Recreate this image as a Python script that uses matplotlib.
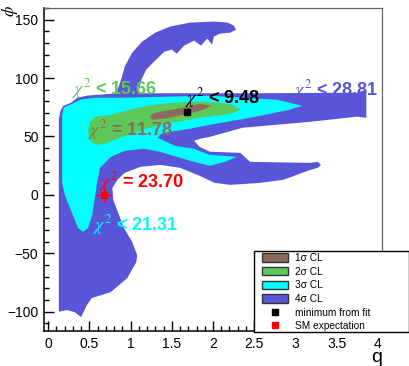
import matplotlib.pyplot as plt
from matplotlib.patches import Patch, Rectangle
from matplotlib.lines import Line2D
from matplotlib.ticker import MultipleLocator

plt.rcParams['font.family'] = ['Liberation Sans', 'DejaVu Sans']
plt.rcParams['mathtext.fontset'] = 'stix'

# 4 sigma region: main body (column, band, lower arm) and upper arch
q_4s = [0.13, 0.13, 0.145, 0.18, 0.28, 0.35, 0.47, 0.85, 2.45, 3.75, 3.81, 3.86,
        3.86, 3.75, 3.18, 2.36, 1.96, 1.84, 1.77, 1.84, 1.96, 2.33, 2.45, 3.18,
        3.27, 3.31, 3.27, 3.18, 2.85, 2.57, 2.21, 2.02, 1.84, 1.60, 1.36, 1.12,
        0.93, 0.84, 0.78, 0.79, 0.86, 0.92, 1.02, 1.08, 1.07, 0.96, 0.76, 0.53,
        0.47, 0.40, 0.32, 0.23]
phi_4s = [-100, 64, 71, 76, 79, 83, 85, 87, 87, 87.5, 89, 90,
          66, 67, 62.6, 57.5, 49.7, 48, 46.3, 41, 37, 36, 28.3, 27.4,
          28.3, 25.7, 23.2, 21.4, 12.9, 10.3, 8.6, 10.3, 16.3, 23.2, 25.7, 24,
          18.9, 12.9, 6, -4.3, -17.2, -28.3, -40.3, -51.5, -57.5, -71.2, -83.2, -88.3,
          -94.3, -104.6, -100.3, -98.6]
q_4s_arch = [0.82, 0.885, 0.93, 1.02, 1.14, 1.30, 1.48, 1.72, 2.01, 2.18, 2.25, 2.28,
             2.21, 2.085, 2.01, 1.99, 1.93, 1.855, 1.77, 1.65, 1.56, 1.50, 1.41,
             1.285, 1.19, 1.13, 1.09]
phi_4s_arch = [85.8, 98.6, 110, 121.8, 131.2, 138.9, 144.1, 147.5, 148.4, 147.5, 145, 141.5,
               138.9, 138.1, 135.5, 128.6, 133.8, 127.8, 132.1, 127.8, 120.9, 124.4, 122.6,
               114.1, 107.2, 98.6, 85.8]

# 3 sigma region
q_3s = [0.17, 0.19, 0.29, 0.39, 0.57, 0.87, 1.96, 2.78, 3.08, 2.93, 2.45, 1.96,
        1.72, 1.48, 1.37, 1.33, 1.54, 1.77, 1.96, 2.29, 2.145, 1.96, 1.72, 1.56,
        1.36, 1.16, 0.93, 0.76, 0.63, 0.594, 0.57, 0.533, 0.485, 0.424, 0.364, 0.29,
        0.206, 0.17]
phi_3s = [68.6, 74.6, 78, 81.5, 83.2, 83.2, 84.9, 81.5, 76.3, 72.9, 66, 60,
          56.6, 54, 52.3, 48.9, 42, 39.5, 34.3, 32.6, 28.3, 24.9, 29.2, 32.6,
          36.9, 39.5, 37.7, 32.6, 23.2, 10.3, -0.9, -18, -28.3, -31.7, -28.3, -15.4,
          -0.9, 10.3]

# 2 sigma region
q_2s = [0.51, 0.57, 0.76, 1.08, 1.285, 1.53, 1.84, 2.085, 2.23, 2.34, 2.21, 2.05,
        1.84, 1.64, 1.36, 1.115, 0.87, 0.69, 0.57, 0.50, 0.485]
phi_2s = [62.6, 66.9, 68.6, 74.6, 77.2, 78.9, 79.8, 78.9, 77.2, 72.9, 69.5, 67.8,
          66, 63.5, 60, 54.9, 48.9, 43.7, 42.9, 47.2, 55.7]

# 1 sigma region
q_1s = [1.236, 1.30, 1.42, 1.64, 1.84, 1.99, 1.84, 1.64, 1.42, 1.26]
phi_1s = [67.8, 70.3, 72, 74.6, 78, 76.3, 72, 68.6, 65.2, 64.3]

best_q, best_phi = 1.685, 71.2
sm_q, sm_phi = 0.68, 0.0
sm_qerr, sm_phierr = 0.1, 6.0

col_1s = '#8c6a5c'
col_2s = '#5cc85a'
col_3s = '#00ffff'
col_4s = '#5955d8'

label_texts = [r'$\chi^2$ < 15.66', r'$\chi^2$ = 11.78', r'$\chi^2$ < 9.48',
               r'$\chi^2$ < 28.81', r'$\chi^2$ = 23.70', r'$\chi^2$ < 21.31']
label_q = [0.29, 0.485, 1.66, 2.97, 0.62, 0.545]
label_phi = [91, 55.7, 83, 90, 11, -25.7]
label_cols = [col_2s, col_1s, 'black', col_4s, 'red', col_3s]

legend_labels = ['1σ CL', '2σ CL', '3σ CL', '4σ CL', 'minimum from fit', 'SM expectation']

fig = plt.figure(figsize=(4.10, 3.66), dpi=100)
ax = fig.add_axes([44/410, 35/366, 338/410, 323/366])

ax.fill(q_4s, phi_4s, color=col_4s, lw=0, zorder=1)
ax.fill(q_4s_arch, phi_4s_arch, color=col_4s, lw=0, zorder=1)
ax.fill(q_3s, phi_3s, color=col_3s, lw=0, zorder=2)
ax.fill(q_2s, phi_2s, color=col_2s, lw=0, zorder=3)
ax.fill(q_1s, phi_1s, color=col_1s, lw=0, zorder=4)

for t, x, y, c in zip(label_texts, label_q, label_phi, label_cols):
    ax.text(x, y, t, color=c, fontsize=13, fontweight='bold', ha='left', va='center', zorder=6)

ax.plot(best_q, best_phi, 's', color='black', markersize=5, zorder=7)
ax.errorbar(sm_q, sm_phi, xerr=sm_qerr, yerr=sm_phierr, fmt='s', color='red',
            markersize=5, elinewidth=1, capsize=0, zorder=7)

ax.set_xlim(-0.05, 4.05)
ax.set_ylim(-116.5, 160)
ax.xaxis.set_major_locator(MultipleLocator(0.5))
ax.xaxis.set_minor_locator(MultipleLocator(0.1))
ax.yaxis.set_major_locator(MultipleLocator(50))
ax.yaxis.set_minor_locator(MultipleLocator(10))
ax.set_xticks([0, 0.5, 1, 1.5, 2, 2.5, 3, 3.5, 4])
ax.set_xticklabels(['0', '0.5', '1', '1.5', '2', '2.5', '3', '3.5', '4'])
ax.tick_params(which='both', direction='in', top=False, right=False, labelsize=10, width=1)
ax.tick_params(which='major', length=7, pad=4)
ax.tick_params(which='minor', length=3.5)
for s in ['left', 'bottom']:
    ax.spines[s].set_linewidth(1.1)
for s in ['top', 'right']:
    ax.spines[s].set_color('#666666')
    ax.spines[s].set_linewidth(0.9)

ax.set_xlabel('q', fontsize=14)
ax.xaxis.set_label_coords(1.0, -0.056)
ax.xaxis.label.set_ha('right')
ax.set_ylabel(r'$\phi$', fontsize=12, rotation=90)
ax.yaxis.set_label_coords(-0.1, 0.99)
ax.yaxis.label.set_va('center')
ax.yaxis.label.set_ha('center')

# legend
handles = [Patch(facecolor=c, edgecolor='#333333', lw=1) for c in [col_1s, col_2s, col_3s, col_4s]]
handles += [Line2D([], [], marker='s', color='black', ls='', markersize=5),
            Line2D([], [], marker='s', color='red', ls='', markersize=5)]
fig.patches.append(Rectangle((254/410, 34/366), 155/410, 81/366, transform=fig.transFigure,
                             facecolor='white', edgecolor='black', lw=1, zorder=8))
leg = fig.legend(handles, legend_labels, loc='upper left', bbox_to_anchor=(260/410, 1 - 251/366),
                 frameon=False, fontsize=7.3, handlelength=2.6, handleheight=0.9,
                 handletextpad=0.7, labelspacing=0.36, borderpad=0.2, borderaxespad=0)
leg.set_zorder(9)

fig.savefig('out.png', dpi=100)
